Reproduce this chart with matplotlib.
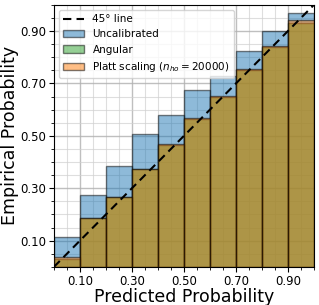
import numpy as np
import matplotlib
matplotlib.use('Agg')
import matplotlib.pyplot as plt
from matplotlib.ticker import MultipleLocator, FixedLocator

# bin edges / values
bin_left = np.arange(0.0, 1.0, 0.1)
uncalibrated = [0.115, 0.274, 0.385, 0.509, 0.581, 0.677, 0.730, 0.824, 0.900, 0.970]
angular = [0.030, 0.186, 0.268, 0.372, 0.467, 0.566, 0.650, 0.753, 0.839, 0.932]
platt = [0.039, 0.185, 0.266, 0.373, 0.468, 0.567, 0.652, 0.755, 0.842, 0.941]
tick_vals = [0.1, 0.3, 0.5, 0.7, 0.9]

fig = plt.figure(figsize=(3.19, 3.05), dpi=100)
ax = fig.add_axes([0.169, 0.125, 0.815, 0.859])

ax.plot([0, 1], [0, 1], 'k--', lw=1.5, dashes=(4, 2.5), label='45° line', zorder=5)
ax.bar(bin_left, uncalibrated, width=0.1, align='edge', color='#1f77b4',
       alpha=0.5, edgecolor='k', lw=1, label='Uncalibrated', zorder=2)
ax.bar(bin_left, angular, width=0.1, align='edge', color='#2ca02c',
       alpha=0.5, edgecolor='k', lw=1, label='Angular', zorder=3)
ax.bar(bin_left, platt, width=0.1, align='edge', color='#ff7f0e',
       alpha=0.5, edgecolor='k', lw=1, label='Platt scaling ($n_{ho} = 20000$)', zorder=4)

ax.set_xlim(0, 1)
ax.set_ylim(0, 1)
ax.xaxis.set_major_locator(FixedLocator(tick_vals))
ax.yaxis.set_major_locator(FixedLocator(tick_vals))
ax.xaxis.set_minor_locator(MultipleLocator(0.05))
ax.yaxis.set_minor_locator(MultipleLocator(0.05))
ax.set_xticklabels(['%.2f' % t for t in tick_vals])
ax.set_yticklabels(['%.2f' % t for t in tick_vals])
ax.tick_params(labelsize=8.5, pad=2)
ax.grid(which='major', color='#b0b0b0', lw=1.0, alpha=0.8, zorder=0)
ax.grid(which='minor', color='#d0d0d0', lw=0.8, alpha=0.7, zorder=0)
ax.set_axisbelow(True)

ax.set_xlabel('Predicted Probability', fontsize=12.5, labelpad=0)
ax.set_ylabel('Empirical Probability', fontsize=12.5, labelpad=1)
ax.legend(loc='upper left', fontsize=7.5)

fig.savefig('out.png', dpi=100)
